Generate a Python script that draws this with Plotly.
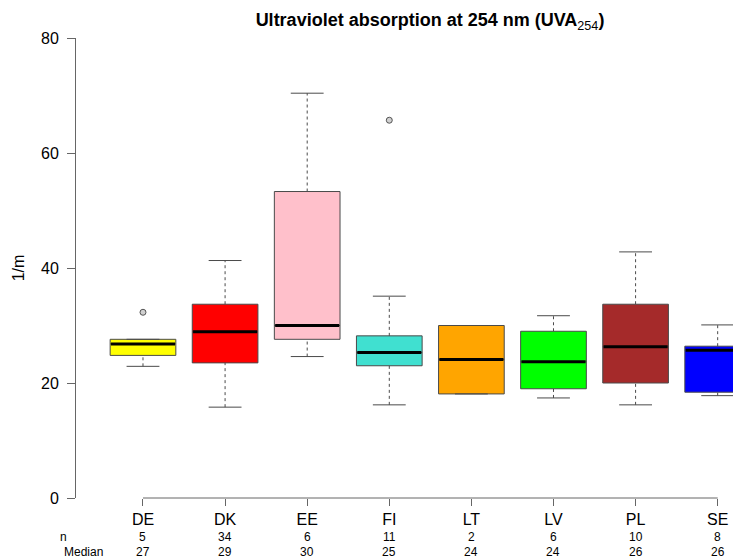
import plotly.graph_objects as go

# values (1/m)
countries = ["DE", "DK", "EE", "FI", "LT", "LV", "PL", "SE"]
colors = ["#FFFF00", "#FF0000", "#FFC0CB", "#40E0D0", "#FFA500", "#00FF00", "#A52A2A", "#0000FF"]
lower = [22.9, 15.8, 24.6, 16.2, 18.1, 17.4, 16.2, 17.8]
q1 = [24.8, 23.5, 27.6, 23.0, 18.1, 19.0, 20.0, 18.4]
median = [26.8, 28.9, 30.0, 25.3, 24.1, 23.7, 26.3, 25.7]
q3 = [27.6, 33.7, 53.3, 28.2, 30.0, 29.0, 33.7, 26.4]
upper = [27.6, 41.3, 70.4, 35.1, 30.0, 31.7, 42.8, 30.1]
outlier_country = ["DE", "FI"]
outlier_value = [32.3, 65.7]
n_obs = [5, 34, 6, 11, 2, 6, 10, 8]
median_label = [27, 29, 30, 25, 24, 24, 26, 26]

FONT = "Liberation Sans, Arial, sans-serif"
BOX_W = 0.8
CAP_W = 0.4
EDGE = "#4a4a4a"
W, H = 733, 550  # page body has an 8px margin

pos = list(range(1, len(countries) + 1))
fig = go.Figure()

# boxes (whiskers drawn separately so they can be dashed)
for i, c in enumerate(countries):
    fig.add_trace(go.Box(
        x=[pos[i]], q1=[q1[i]], median=[median[i]], q3=[q3[i]],
        lowerfence=[q1[i]], upperfence=[q3[i]],
        width=BOX_W, fillcolor=colors[i], line=dict(color=EDGE, width=1),
        whiskerwidth=0, boxpoints=False, showlegend=False, name=c))

wx, wy, cx, cy, mx, my = [], [], [], [], [], []
for i in range(len(countries)):
    p = pos[i]
    wx += [p, p, None, p, p, None]
    wy += [q3[i], upper[i], None, lower[i], q1[i], None]
    cx += [p - CAP_W / 2, p + CAP_W / 2, None, p - CAP_W / 2, p + CAP_W / 2, None]
    cy += [upper[i], upper[i], None, lower[i], lower[i], None]
    mx += [p - BOX_W / 2 + 0.01, p + BOX_W / 2 - 0.01, None]
    my += [median[i], median[i], None]

fig.add_trace(go.Scatter(x=wx, y=wy, mode="lines", showlegend=False, hoverinfo="skip",
                         line=dict(color=EDGE, width=1, dash="3px,3px")))
fig.add_trace(go.Scatter(x=cx, y=cy, mode="lines", showlegend=False, hoverinfo="skip",
                         line=dict(color=EDGE, width=1)))
fig.add_trace(go.Scatter(x=mx, y=my, mode="lines", showlegend=False, hoverinfo="skip",
                         line=dict(color="black", width=3)))
fig.add_trace(go.Scatter(
    x=[pos[countries.index(c)] for c in outlier_country], y=outlier_value,
    mode="markers", showlegend=False,
    marker=dict(symbol="circle", size=6, color="#d0d0d0", line=dict(color="#555555", width=1))))

# bottom rows: n and median
for i in range(len(countries)):
    fig.add_annotation(x=pos[i], y=0, xref="x", yref="paper", text=str(n_obs[i]),
                       showarrow=False, yanchor="middle", yshift=-39,
                       font=dict(family=FONT, size=12, color="black"))
    fig.add_annotation(x=pos[i], y=0, xref="x", yref="paper", text=str(median_label[i]),
                       showarrow=False, yanchor="middle", yshift=-54,
                       font=dict(family=FONT, size=12, color="black"))
fig.add_annotation(x=-0.027, y=0, xref="paper", yref="paper", text="n", showarrow=False,
                   yanchor="middle", yshift=-39, font=dict(family=FONT, size=12, color="black"))
fig.add_annotation(x=-0.0215, y=0, xref="paper", yref="paper", text="Median", showarrow=False,
                   yanchor="middle", yshift=-54, font=dict(family=FONT, size=12, color="black"))

# x axis line only from first to last category, like R
fig.add_shape(type="line", xref="x", yref="paper", x0=pos[0], x1=pos[-1], y0=0, y1=0,
              line=dict(color="#666666", width=1))

fig.update_layout(
    width=W, height=H,
    margin=dict(l=68, r=0, t=30, b=60),
    plot_bgcolor="white", paper_bgcolor="white",
    font=dict(family=FONT, color="black"),
    title=dict(text="<b>Ultraviolet absorption at 254 nm (UVA</b><sub>254</sub><b>)</b>",
               x=422 / W, xanchor="center", y=1 - 12 / H, yanchor="middle",
               font=dict(family=FONT, size=18, color="black")),
    xaxis=dict(range=[0.184, 8.284], tickvals=pos, ticktext=countries,
               showline=False, showgrid=False, zeroline=False,
               ticks="outside", ticklen=7, tickcolor="#666666",
               tickfont=dict(family=FONT, size=16, color="black")),
    yaxis=dict(range=[0, 80], tickvals=[0, 20, 40, 60, 80],
               showline=True, linecolor="#666666", linewidth=1,
               showgrid=False, zeroline=False,
               ticks="outside", ticklen=8, tickcolor="#666666", ticklabelstandoff=5,
               tickfont=dict(family=FONT, size=16, color="black"),
               title=dict(text="1/m", standoff=12, font=dict(family=FONT, size=16, color="black"))),
)

fig.write_html("out.html")
